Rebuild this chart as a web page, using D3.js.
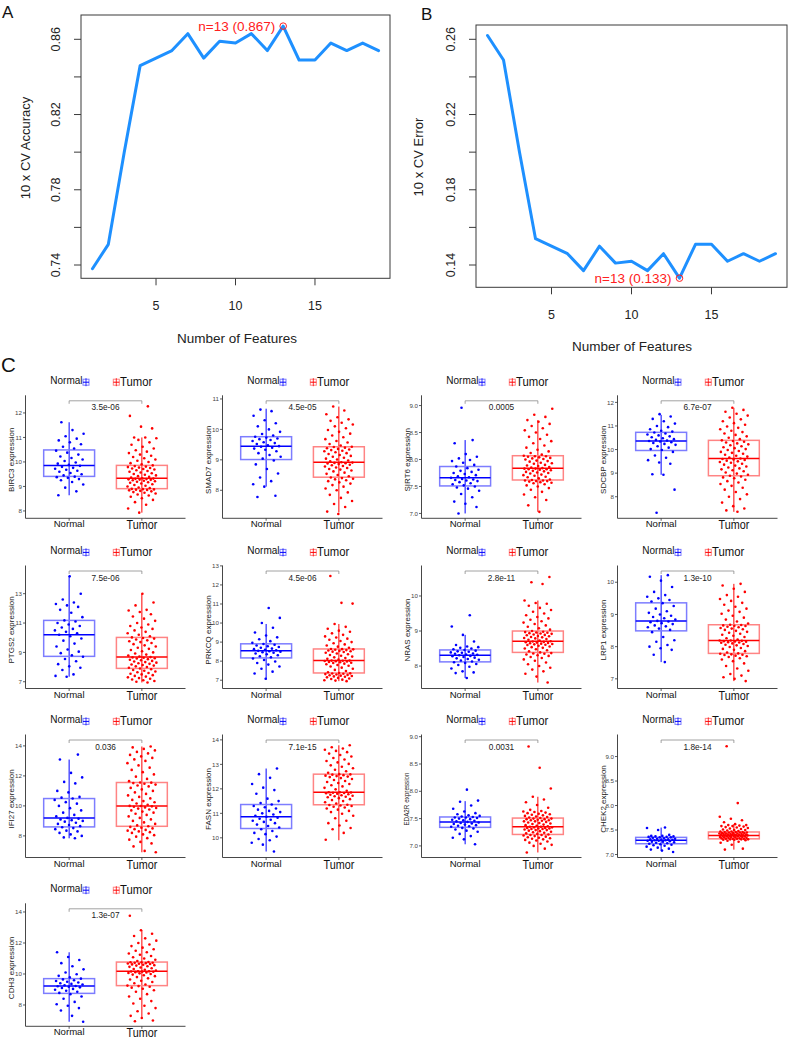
<!DOCTYPE html>
<html><head><meta charset="utf-8">
<script src="https://cdn.jsdelivr.net/npm/d3@7/dist/d3.min.js"></script>
<style>body{margin:0;background:#fff}svg{display:block;font-family:"Liberation Sans",Arial,Helvetica,sans-serif}</style>
</head><body><svg id="c" width="789" height="1041"></svg>
<script>
// ---------------- DATA ----------------
const features = [1,2,3,4,5,6,7,8,9,10,11,12,13,14,15,16,17,18,19];
const cvAccuracy = [0.738,0.751,0.800,0.846,0.850,0.854,0.863,0.850,0.859,0.858,0.863,0.854,0.867,0.849,0.849,0.858,0.854,0.858,0.854];
const cvError    = [0.262,0.249,0.200,0.154,0.150,0.146,0.137,0.150,0.141,0.142,0.137,0.146,0.133,0.151,0.151,0.142,0.146,0.142,0.146];
const accTicks = [0.74,0.76,0.78,0.80,0.82,0.84,0.86];
const errTicks = [0.14,0.16,0.18,0.20,0.22,0.24,0.26];
const featTicks = [5,10,15];
const bestN = 13, bestAcc = 0.867, bestErr = 0.133;

const groups = ["Normal","Tumor"];
const genes = ["BIRC3","SMAD7","SIRT6","SDCBP","PTGS2","PRKCQ","NRAS","LRP1","IFI27","FASN","EDA2R","CHEK2","CDH3"];
const pValues = ["3.5e-06","4.5e-05","0.0005","6.7e-07","7.5e-06","4.5e-06","2.8e-11","1.3e-10","0.036","7.1e-15","0.0031","1.8e-14","1.3e-07"];
// [lower whisker, Q1, median, Q3, upper whisker]
const normalBox = [[8.64,9.41,9.85,10.49,11.62],[8.12,9.01,9.45,9.76,10.68],[7.0,7.51,7.66,7.87,8.36],[8.93,9.96,10.36,10.73,11.47],[7.34,8.73,10.2,11.18,14.18],[7.03,8.17,8.54,8.91,9.95],[7.66,8.12,8.31,8.46,8.89],[7.52,8.49,8.8,9.36,10.22],[7.84,8.6,9.2,10.49,13.09],[9.44,10.38,10.86,11.36,12.83],[7.03,7.34,7.44,7.53,7.82],[7.08,7.22,7.29,7.35,7.55],[6.92,8.75,9.23,9.7,11.4]];
const tumorBox = [[7.93,8.91,9.33,9.86,11.0],[7.27,8.43,8.92,9.43,10.75],[7.03,7.62,7.84,8.07,8.73],[7.36,8.89,9.62,10.39,11.77],[6.95,7.91,8.68,10.02,13.0],[6.95,7.38,8.03,8.64,9.95],[7.53,8.39,8.71,9.0,9.87],[6.93,7.79,8.19,8.68,9.95],[6.91,8.64,10.0,11.56,13.96],[9.9,11.35,11.86,12.6,13.78],[6.88,7.21,7.35,7.51,7.9],[7.1,7.32,7.39,7.46,7.62],[7.16,9.25,10.17,10.77,12.82]];
const yDomains = [[7.70,12.72],[7.08,11.12],[6.91,9.19],[7.085,12.30],[6.54,14.92],[6.565,13.02],[7.36,10.87],[6.70,10.52],[6.56,14.76],[9.196,14.22],[6.788,9.04],[6.939,9.45],[6.626,14.56]];
const yTicks = [[8,9,10,11,12],[8,9,10,11],[7,7.5,8,8.5,9],[8,9,10,11,12],[7,9,11,13],[7,8,9,10,11,12,13],[8,9,10],[7,8,9,10],[8,10,12,14],[10,11,12,13,14],[7,7.5,8,8.5,9],[7,7.5,8,8.5,9],[8,10,12,14]];

const normalPts = [
[8.64,8.8,8.95,9.08,9.18,9.25,9.3,9.35,9.38,9.4,9.45,9.5,9.55,9.6,9.64,9.68,9.72,9.76,9.8,9.84,9.88,9.93,9.98,10.04,10.1,10.16,10.22,10.3,10.38,10.46,10.55,10.62,10.72,10.8,10.88,10.95,11.05,11.15,11.3,11.62],
[7.78,7.82,8.12,8.2,8.3,8.42,8.55,8.7,8.85,8.98,9.04,9.1,9.16,9.22,9.28,9.33,9.37,9.4,9.43,9.45,9.48,9.52,9.55,9.58,9.62,9.65,9.68,9.7,9.73,9.76,9.8,9.85,9.92,10.0,10.1,10.2,10.3,10.45,10.6,10.65],
[7.0,7.12,7.18,7.22,7.3,7.36,7.42,7.46,7.48,7.5,7.52,7.54,7.56,7.58,7.6,7.61,7.62,7.63,7.64,7.66,7.67,7.69,7.71,7.73,7.75,7.77,7.79,7.81,7.84,7.87,7.9,7.94,7.97,7.99,8.02,8.05,8.1,8.3,8.36,8.96],
[7.32,8.3,8.93,8.95,9.4,9.45,9.55,9.65,9.75,9.9,9.98,10.02,10.08,10.14,10.2,10.24,10.28,10.31,10.34,10.36,10.38,10.41,10.44,10.48,10.52,10.56,10.6,10.64,10.68,10.72,10.76,10.8,10.86,10.95,11.0,11.1,11.2,11.3,11.4,11.5],
[7.34,7.4,7.5,7.8,7.95,8.05,8.2,8.4,8.55,8.7,8.8,8.95,9.05,9.2,9.4,9.6,9.8,9.95,10.1,10.2,10.3,10.4,10.5,10.6,10.7,10.8,10.9,11.0,11.1,11.18,11.4,11.7,11.9,12.1,12.2,12.3,12.4,12.6,13.0,14.18],
[7.08,7.35,7.45,7.6,7.72,7.82,7.9,7.98,8.06,8.14,8.2,8.26,8.31,8.36,8.4,8.44,8.47,8.5,8.52,8.54,8.57,8.6,8.63,8.66,8.7,8.74,8.78,8.82,8.86,8.9,8.96,9.05,9.15,9.25,9.35,9.5,9.75,10.0,10.27,10.79],
[7.66,7.8,7.82,7.85,7.93,7.98,8.03,8.06,8.09,8.11,8.13,8.16,8.18,8.2,8.22,8.24,8.26,8.28,8.29,8.31,8.32,8.33,8.35,8.36,8.38,8.39,8.41,8.42,8.44,8.46,8.48,8.5,8.52,8.54,8.56,8.6,8.7,8.89,9.13,9.45],
[7.52,7.75,7.9,7.95,8.0,8.05,8.15,8.2,8.3,8.45,8.52,8.56,8.6,8.63,8.66,8.7,8.73,8.76,8.78,8.8,8.84,8.88,8.92,8.96,9.0,9.05,9.1,9.18,9.26,9.35,9.4,9.45,9.5,9.55,9.6,9.7,9.85,10.05,10.17,10.22],
[7.84,7.9,8.0,8.1,8.2,8.3,8.35,8.45,8.52,8.58,8.65,8.72,8.8,8.88,8.95,9.0,9.05,9.1,9.15,9.2,9.3,9.4,9.55,9.7,9.85,10.0,10.15,10.25,10.4,10.49,10.55,10.6,10.9,11.0,11.5,11.6,11.9,12.2,13.09,13.42],
[9.44,9.72,9.8,9.9,9.95,10.05,10.15,10.2,10.28,10.35,10.42,10.48,10.54,10.6,10.65,10.7,10.74,10.78,10.82,10.86,10.9,10.95,11.0,11.05,11.1,11.15,11.2,11.25,11.3,11.36,11.42,11.5,11.6,11.8,11.95,12.05,12.2,12.45,12.6,12.83],
[7.03,7.12,7.15,7.18,7.22,7.26,7.28,7.3,7.32,7.33,7.35,7.36,7.37,7.38,7.39,7.4,7.41,7.42,7.43,7.44,7.45,7.46,7.47,7.48,7.49,7.5,7.51,7.52,7.52,7.53,7.54,7.55,7.56,7.58,7.6,7.63,7.68,7.74,7.81,7.83,8.03],
[7.05,7.08,7.1,7.12,7.14,7.16,7.18,7.19,7.2,7.21,7.22,7.23,7.24,7.25,7.26,7.26,7.27,7.28,7.28,7.29,7.29,7.3,7.3,7.31,7.31,7.32,7.32,7.33,7.34,7.35,7.35,7.36,7.36,7.37,7.37,7.38,7.38,7.4,7.5,7.54,7.55],
[6.92,7.3,7.65,7.8,7.95,8.05,8.2,8.4,8.55,8.7,8.78,8.85,8.92,8.98,9.04,9.1,9.14,9.18,9.21,9.23,9.27,9.32,9.36,9.4,9.45,9.5,9.55,9.6,9.65,9.7,9.78,9.88,9.98,10.1,10.3,10.5,10.7,10.9,11.1,11.4]
];
const tumorPts = [
[7.93,8.1,8.25,8.36,8.45,8.52,8.58,8.63,8.67,8.71,8.74,8.77,8.8,8.82,8.84,8.86,8.87,8.88,8.89,8.9,8.93,8.96,9.0,9.03,9.06,9.09,9.12,9.15,9.17,9.19,9.21,9.23,9.25,9.27,9.28,9.29,9.3,9.31,9.32,9.33,9.36,9.39,9.42,9.45,9.48,9.51,9.54,9.57,9.6,9.63,9.66,9.69,9.71,9.73,9.75,9.77,9.79,9.81,9.83,9.86,9.9,9.95,10.0,10.05,10.1,10.15,10.2,10.25,10.3,10.36,10.42,10.48,10.55,10.62,10.7,10.8,10.9,10.97,11.0,11.0,11.37,11.44,11.88,12.27],
[7.22,7.3,7.45,7.55,7.65,7.75,7.85,7.93,8.0,8.06,8.12,8.17,8.22,8.26,8.3,8.33,8.36,8.38,8.4,8.42,8.46,8.5,8.54,8.58,8.62,8.65,8.68,8.7,8.73,8.75,8.78,8.8,8.82,8.84,8.86,8.88,8.89,8.9,8.91,8.92,8.95,8.98,9.01,9.04,9.07,9.1,9.13,9.16,9.19,9.22,9.25,9.28,9.3,9.32,9.34,9.36,9.38,9.4,9.42,9.43,9.47,9.52,9.57,9.62,9.68,9.74,9.8,9.86,9.92,9.98,10.04,10.1,10.16,10.22,10.28,10.33,10.4,10.5,10.62,10.75],
[7.03,7.15,7.25,7.3,7.35,7.4,7.44,7.47,7.5,7.52,7.54,7.56,7.57,7.58,7.59,7.6,7.6,7.61,7.61,7.62,7.63,7.65,7.67,7.68,7.7,7.71,7.72,7.74,7.75,7.76,7.77,7.78,7.79,7.8,7.81,7.82,7.82,7.83,7.83,7.84,7.85,7.86,7.88,7.89,7.9,7.92,7.93,7.94,7.96,7.97,7.98,8.0,8.01,8.02,8.03,8.04,8.05,8.06,8.06,8.07,8.09,8.12,8.15,8.18,8.22,8.26,8.3,8.34,8.38,8.42,8.46,8.5,8.54,8.58,8.62,8.66,8.7,8.73,8.79,8.83,8.94],
[7.36,7.42,7.5,7.6,7.75,7.9,8.0,8.1,8.2,8.3,8.38,8.46,8.54,8.6,8.66,8.72,8.78,8.82,8.86,8.89,8.93,8.98,9.03,9.08,9.12,9.16,9.2,9.24,9.28,9.32,9.36,9.4,9.44,9.47,9.5,9.53,9.56,9.58,9.6,9.62,9.66,9.7,9.74,9.78,9.82,9.86,9.9,9.94,9.98,10.02,10.06,10.1,10.14,10.18,10.22,10.26,10.3,10.33,10.36,10.39,10.44,10.5,10.56,10.62,10.68,10.74,10.8,10.86,10.92,10.98,11.05,11.12,11.2,11.28,11.36,11.44,11.52,11.6,11.68,11.77],
[6.95,7.0,7.05,7.1,7.15,7.2,7.25,7.3,7.35,7.4,7.45,7.5,7.55,7.6,7.65,7.7,7.75,7.8,7.85,7.9,7.95,8.0,8.05,8.1,8.14,8.18,8.22,8.26,8.3,8.34,8.38,8.42,8.46,8.5,8.54,8.58,8.6,8.63,8.66,8.68,8.72,8.78,8.85,8.92,9.0,9.08,9.16,9.24,9.32,9.4,9.48,9.56,9.64,9.7,9.76,9.82,9.88,9.94,9.98,10.02,10.1,10.2,10.3,10.4,10.5,10.6,10.7,10.8,10.9,11.0,11.15,11.3,11.45,11.6,11.75,11.85,11.9,12.2,12.4,13.0],
[6.95,6.98,7.0,7.03,7.06,7.09,7.12,7.15,7.18,7.2,7.22,7.24,7.26,7.28,7.3,7.32,7.34,7.35,7.36,7.38,7.42,7.48,7.54,7.6,7.66,7.72,7.76,7.8,7.84,7.87,7.9,7.92,7.94,7.96,7.98,8.0,8.01,8.02,8.03,8.03,8.08,8.12,8.16,8.2,8.24,8.28,8.32,8.36,8.4,8.44,8.48,8.5,8.52,8.54,8.56,8.58,8.6,8.62,8.63,8.64,8.7,8.76,8.82,8.88,8.94,9.0,9.06,9.12,9.18,9.24,9.3,9.38,9.46,9.54,9.6,9.7,9.8,9.95,11.02,11.06,12.47],
[7.53,7.7,7.78,7.85,7.9,7.95,8.0,8.05,8.1,8.15,8.19,8.23,8.26,8.29,8.31,8.33,8.35,8.36,8.37,8.39,8.42,8.45,8.48,8.5,8.52,8.54,8.56,8.58,8.6,8.61,8.62,8.63,8.64,8.65,8.66,8.67,8.68,8.69,8.7,8.71,8.73,8.75,8.77,8.79,8.8,8.82,8.83,8.85,8.86,8.88,8.89,8.9,8.92,8.93,8.94,8.95,8.96,8.97,8.98,9.0,9.04,9.08,9.12,9.16,9.2,9.24,9.28,9.32,9.36,9.4,9.45,9.5,9.55,9.6,9.66,9.72,9.78,9.8,9.87,10.34,10.39,10.54],
[6.93,7.0,7.05,7.1,7.15,7.25,7.32,7.4,7.48,7.55,7.6,7.64,7.68,7.7,7.72,7.74,7.75,7.76,7.78,7.79,7.82,7.86,7.9,7.93,7.96,7.99,8.02,8.04,8.06,8.08,8.1,8.12,8.13,8.14,8.15,8.16,8.17,8.18,8.19,8.19,8.22,8.26,8.3,8.34,8.37,8.4,8.43,8.46,8.49,8.52,8.54,8.56,8.58,8.6,8.62,8.64,8.65,8.66,8.67,8.68,8.72,8.78,8.84,8.9,8.96,9.02,9.08,9.12,9.18,9.24,9.3,9.36,9.42,9.48,9.55,9.6,9.7,9.8,9.9,9.95],
[6.91,7.0,7.3,7.5,7.6,7.75,7.85,7.95,8.05,8.1,8.2,8.25,8.3,8.35,8.4,8.45,8.5,8.55,8.6,8.64,8.7,8.8,8.9,9.0,9.1,9.2,9.3,9.4,9.48,9.55,9.62,9.7,9.76,9.82,9.86,9.9,9.94,9.97,9.99,10.0,10.08,10.16,10.24,10.32,10.4,10.5,10.6,10.7,10.8,10.9,11.0,11.1,11.2,11.3,11.36,11.42,11.48,11.52,11.55,11.56,11.65,11.8,11.95,12.1,12.25,12.4,12.55,12.7,12.85,13.0,13.1,13.2,13.3,13.4,13.5,13.6,13.7,13.8,13.9,13.96],
[9.92,10.2,10.35,10.4,10.5,10.6,10.7,10.8,10.9,10.98,11.05,11.1,11.15,11.2,11.24,11.27,11.3,11.32,11.34,11.35,11.4,11.45,11.5,11.54,11.58,11.62,11.66,11.68,11.7,11.72,11.74,11.76,11.78,11.8,11.82,11.83,11.84,11.85,11.86,11.86,11.92,11.98,12.04,12.1,12.15,12.2,12.24,12.28,12.32,12.36,12.4,12.44,12.48,12.5,12.52,12.54,12.56,12.58,12.59,12.6,12.66,12.72,12.78,12.84,12.9,12.96,13.02,13.08,13.14,13.2,13.26,13.32,13.38,13.44,13.5,13.55,13.6,13.65,13.7,13.78],
[6.88,6.95,7.0,7.02,7.04,7.06,7.08,7.1,7.11,7.12,7.13,7.14,7.15,7.16,7.17,7.18,7.19,7.2,7.2,7.21,7.22,7.23,7.24,7.25,7.26,7.27,7.28,7.29,7.29,7.3,7.31,7.31,7.32,7.32,7.33,7.33,7.34,7.34,7.35,7.35,7.36,7.37,7.38,7.39,7.4,7.41,7.42,7.43,7.44,7.45,7.45,7.46,7.47,7.47,7.48,7.49,7.49,7.5,7.5,7.51,7.52,7.53,7.54,7.55,7.56,7.57,7.58,7.59,7.6,7.61,7.62,7.63,7.64,7.66,7.7,7.75,7.8,7.85,7.9,8.05,8.43,8.82],
[7.1,7.12,7.2,7.24,7.26,7.28,7.29,7.3,7.3,7.31,7.31,7.31,7.32,7.32,7.32,7.32,7.33,7.33,7.34,7.34,7.35,7.35,7.36,7.36,7.36,7.37,7.37,7.37,7.38,7.38,7.38,7.38,7.39,7.39,7.39,7.39,7.4,7.4,7.4,7.41,7.41,7.41,7.42,7.42,7.42,7.43,7.43,7.43,7.44,7.44,7.44,7.45,7.45,7.45,7.46,7.46,7.46,7.47,7.47,7.48,7.49,7.5,7.5,7.51,7.52,7.53,7.54,7.55,7.56,7.57,7.58,7.58,7.59,7.6,7.6,7.62,7.66,7.7,7.73,7.77,8.05,9.21],
[6.95,7.0,7.16,7.3,7.45,7.6,7.8,7.95,8.1,8.25,8.4,8.55,8.7,8.85,8.95,9.05,9.12,9.18,9.22,9.25,9.32,9.4,9.48,9.56,9.64,9.72,9.8,9.86,9.92,9.96,10.0,10.04,10.07,10.1,10.12,10.14,10.15,10.16,10.17,10.17,10.22,10.27,10.32,10.37,10.42,10.46,10.5,10.54,10.57,10.6,10.62,10.64,10.66,10.68,10.7,10.72,10.73,10.75,10.76,10.77,10.84,10.92,11.0,11.08,11.16,11.24,11.32,11.4,11.5,11.6,11.7,11.8,11.9,12.0,12.15,12.3,12.45,12.6,12.82,13.76]
];

// ---------------- DRAW ----------------
const svg = d3.select("#c");
svg.append("rect").attr("width",789).attr("height",1041).attr("fill","#fff");
const FONT = '"Liberation Sans",Arial,sans-serif';

function linePanel(o){
  const g = svg.append("g");
  const x = d3.scaleLinear().domain([0.28,19.72]).range([o.x0,o.x1]);
  const y = d3.scaleLinear().domain(o.ydom).range(o.yrng);
  g.append("path").datum(features.map((f,i)=>[f,o.vals[i]]))
    .attr("d", d3.line().x(d=>x(d[0])).y(d=>y(d[1])))
    .attr("fill","none").attr("stroke","#1E90FF").attr("stroke-width",3)
    .attr("stroke-linejoin","round").attr("stroke-linecap","round");
  g.append("rect").attr("x",o.x0).attr("y",o.y0).attr("width",o.x1-o.x0).attr("height",o.y1-o.y0)
    .attr("fill","none").attr("stroke","#3a3a3a").attr("stroke-width",1);
  o.yt.forEach((t,i)=>{
    g.append("line").attr("x1",o.x0).attr("x2",o.x0-7).attr("y1",y(t)).attr("y2",y(t)).attr("stroke","#3a3a3a");
    if(i%2===0) g.append("text").attr("transform",`translate(${o.x0-25},${y(t)}) rotate(-90)`)
      .attr("text-anchor","middle").attr("dy","0.35em").attr("font-size",12.5).attr("fill","#222").text(t.toFixed(2));
  });
  featTicks.forEach(t=>{
    g.append("line").attr("x1",x(t)).attr("x2",x(t)).attr("y1",o.y1).attr("y2",o.y1+7).attr("stroke","#3a3a3a");
    g.append("text").attr("x",x(t)).attr("y",o.y1+27).attr("dy","0.35em").attr("text-anchor","middle")
      .attr("font-size",12.5).attr("fill","#222").text(t);
  });
  g.append("text").attr("transform",`translate(${o.ylx},${o.yly}) rotate(-90)`).attr("text-anchor","middle")
    .attr("dy","0.35em").attr("font-size",13).attr("fill","#222").text(o.ylab);
  g.append("text").attr("x",o.xlx).attr("y",o.xly).attr("dy","0.35em").attr("text-anchor","middle")
    .attr("font-size",13.5).attr("fill","#222").text("Number of Features");
  const cx = x(bestN), cy = y(o.best);
  g.append("circle").attr("cx",cx).attr("cy",cy).attr("r",3.3).attr("fill","none").attr("stroke","#FF2020").attr("stroke-width",1);
  g.append("text").attr("x",cx-8).attr("y",cy).attr("dy","0.35em").attr("text-anchor","end")
    .attr("font-size",13.5).attr("fill","#FF2020").text(`n=${bestN} (${o.best.toFixed(3)})`);
  g.append("text").attr("x",o.lx).attr("y",o.ly).attr("font-size",17).attr("fill","#111").text(o.letter);
}
linePanel({x0:81,x1:390,y0:15,y1:278.3,ydom:[0.74,0.86],yrng:[265,39.3],vals:cvAccuracy,yt:accTicks,best:bestAcc,
  ylab:"10 x CV Accuracy",ylx:25,yly:148,xlx:237,xly:338,letter:"A",lx:2,ly:17.5});
linePanel({x0:476,x1:787,y0:25,y1:287.3,ydom:[0.14,0.26],yrng:[265,39.3],vals:cvError,yt:errTicks,best:bestErr,
  ylab:"10 x CV Error",ylx:418,yly:157,xlx:632,xly:346,letter:"B",lx:421,ly:19.5});

svg.append("text").attr("x",1).attr("y",371.5).attr("font-size",20.5).attr("fill","#111").text("C");

const colX = [25.5,222.5,421.5,617.5];
const rowBottom = [518.3,688.5,857.5,1026.3];
const H = 123, W = 160;
const col = {Normal:"#0000FF", Tumor:"#FF0000"};
const light = {Normal:"#7d7dff", Tumor:"#ff8484"};
const titleSize = {EDA2R:6.3};

genes.forEach((gene,k)=>{
  const c = k%4, r = Math.floor(k/4);
  const x0 = colX[c], yb = rowBottom[r];
  const g = svg.append("g");
  const y = d3.scaleLinear().domain(yDomains[k]).range([yb, yb-H]);
  const x = d3.scalePoint().domain(groups).range([x0, x0+W]).padding(0.6);
  const step = x.step(), bw = 0.7*step, jw = 0.2*step;

  // legend
  const ly = yb - 137.6;
  g.append("text").attr("x",x0+57).attr("y",ly+3.4).attr("text-anchor","end").attr("font-size",10).attr("fill","#111").text("Normal");
  [["Normal",x0+60.5],["Tumor",x0+90.8]].forEach(([grp,cx])=>{
    const s = 6;
    g.append("rect").attr("x",cx-s/2).attr("y",ly+1.5-s/2).attr("width",s).attr("height",s).attr("fill","none").attr("stroke",light[grp]).attr("stroke-width",1);
    g.append("line").attr("x1",cx-s/2).attr("x2",cx+s/2).attr("y1",ly+1.5).attr("y2",ly+1.5).attr("stroke",col[grp]).attr("stroke-width",1);
    g.append("line").attr("x1",cx).attr("x2",cx).attr("y1",ly+1.5-s/2-1).attr("y2",ly+1.5+s/2+1).attr("stroke",col[grp]).attr("stroke-width",0.8);
  });
  g.append("text").attr("transform",`translate(${x0+94.6},${ly+5.3}) scale(0.87,1)`).attr("font-size",13).attr("fill","#111").text("Tumor");

  // axes
  g.append("line").attr("x1",x0).attr("x2",x0).attr("y1",yb).attr("y2",yb-H).attr("stroke","#333").attr("stroke-width",0.9);
  g.append("line").attr("x1",x0).attr("x2",x0+W).attr("y1",yb).attr("y2",yb).attr("stroke","#333").attr("stroke-width",0.9);
  const fmt = yTicks[k].some(t=>t%1!==0) ? d3.format(".1f") : d3.format("d");
  yTicks[k].forEach(t=>{
    g.append("line").attr("x1",x0).attr("x2",x0-2.5).attr("y1",y(t)).attr("y2",y(t)).attr("stroke","#333").attr("stroke-width",0.8);
    g.append("text").attr("x",x0-3.5).attr("y",y(t)).attr("dy","0.35em").attr("text-anchor","end").attr("font-size",6.2).attr("fill","#444").text(fmt(t));
  });
  groups.forEach(grp=>{
    g.append("line").attr("x1",x(grp)).attr("x2",x(grp)).attr("y1",yb).attr("y2",yb+2.5).attr("stroke","#333").attr("stroke-width",0.8);
  });
  g.append("text").attr("x",x("Normal")).attr("y",yb+9).attr("text-anchor","middle").attr("font-size",9.6).attr("fill","#111").text("Normal");
  g.append("text").attr("transform",`translate(${x("Tumor")},${yb+11}) scale(0.83,1)`).attr("text-anchor","middle").attr("font-size",13).attr("fill","#111").text("Tumor");
  g.append("text").attr("transform",`translate(${x0-14.5},${yb-H/2+3}) rotate(-90)`).attr("text-anchor","middle").attr("dy","0.35em")
    .attr("font-size",titleSize[gene]||8).attr("fill","#222").text(gene+" expression");

  // boxes
  [["Normal",normalBox[k]],["Tumor",tumorBox[k]]].forEach(([grp,b])=>{
    const cx = x(grp);
    g.append("line").attr("x1",cx).attr("x2",cx).attr("y1",y(b[0])).attr("y2",y(b[4])).attr("stroke",col[grp]).attr("stroke-width",1);
    g.append("rect").attr("x",cx-bw/2).attr("y",y(b[3])).attr("width",bw).attr("height",y(b[1])-y(b[3]))
      .attr("fill","none").attr("stroke",light[grp]).attr("stroke-width",1.5);
    g.append("line").attr("x1",cx-bw/2).attr("x2",cx+bw/2).attr("y1",y(b[2])).attr("y2",y(b[2])).attr("stroke",col[grp]).attr("stroke-width",1.5);
  });
  // jittered points
  [["Normal",normalPts[k],0.13],["Tumor",tumorPts[k],0.41]].forEach(([grp,pts,ph])=>{
    g.selectAll(null).data(pts).enter().append("circle")
      .attr("cx",(d,i)=>x(grp)+(((i*0.6180339887+ph+k*0.071)%1)-0.5)*2*jw)
      .attr("cy",d=>y(d)).attr("r",1.3).attr("fill",col[grp]);
  });
  // bracket + p-value
  const by = yb-117.5, xa = x("Normal"), xb = x("Tumor");
  g.append("path").attr("d",`M${xa},${by+3}V${by}H${xb}V${by+3}`).attr("fill","none").attr("stroke","#8a8a8a").attr("stroke-width",0.8);
  g.append("text").attr("transform",`translate(${(xa+xb)/2},${by+9.6}) scale(0.92,1)`).attr("text-anchor","middle")
    .attr("font-size",9).attr("fill","#222").text(pValues[k]);
});
</script></body></html>
